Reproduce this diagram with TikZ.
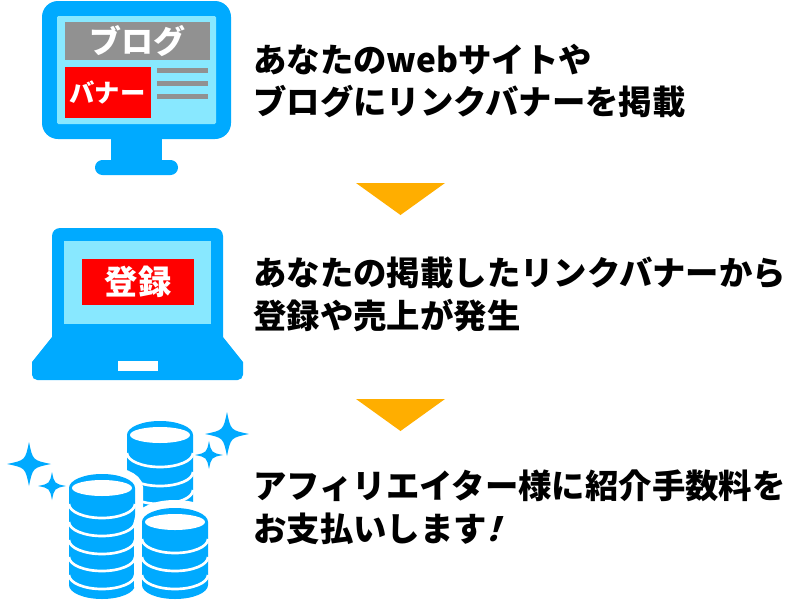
\documentclass[tikz,border=0pt]{standalone}
\usepackage{fontspec}
\usetikzlibrary{calc}
\setmainfont{Noto Sans CJK JP}[UprightFont={* Black},BoldFont={* Black}]
\newfontfamily\jpslant{Noto Sans CJK JP}[UprightFont={* Black},FakeSlant=0.3]
\definecolor{iconblue}{HTML}{00AAFF}
\definecolor{screenblue}{HTML}{88E8FF}
\definecolor{bargray}{HTML}{919191}
\definecolor{arroworange}{HTML}{FFAE00}
\tikzset{
	iconfill/.style={fill=iconblue},
	screenfill/.style={fill=screenblue},
	redfill/.style={fill=red},
	grayfill/.style={fill=bargray},
	downarrow/.style={fill=arroworange},
	caption/.style={anchor=west, inner sep=0, align=left, font=\fontsize{25.05pt}{32pt}\selectfont},
	iconlabel/.style={text=white, inner sep=0},
}
% one stack: centre x, top y, bottom y, separators
\newcommand{\coinstack}[4]{
	\fill[iconfill, preaction={draw=white, line width=12pt}] (#1-33,#2) arc[start angle=180, end angle=360, x radius=33, y radius=14] -- (#1+33,#3) arc[start angle=0, end angle=180, x radius=33, y radius=14] -- cycle;
	\fill[white] (#1,#2) ellipse[x radius=30, y radius=8];
	\foreach \sepy in {#4}
		\draw[white, line width=2pt] (#1-33,\sepy) arc[start angle=180, end angle=0, x radius=33, y radius=14];
}
\newcommand{\sparkle}[3]{
	\fill[iconfill] (#1,#2-#3) .. controls (#1+0.17*#3,#2-0.17*#3) .. (#1+#3,#2) .. controls (#1+0.17*#3,#2+0.17*#3) .. (#1,#2+#3) .. controls (#1-0.17*#3,#2+0.17*#3) .. (#1-#3,#2) .. controls (#1-0.17*#3,#2-0.17*#3) .. cycle;
}
\begin{document}
\begin{tikzpicture}[x=0.75pt, y=-0.75pt]
	\useasboundingbox (0,0) rectangle (800,600);
	% monitor
	\fill[iconfill] (111,135) rectangle (162,165);
	\fill[iconfill, rounded corners=5.6pt] (95,160) rectangle (178,175);
	\fill[iconfill, rounded corners=12pt] (42,1) rectangle (231,139);
	\fill[screenfill, rounded corners=1pt] (57,16) rectangle (216,124);
	\fill[grayfill] (65,22) rectangle (210,60);
	\node[iconlabel, font=\fontsize{24pt}{24pt}\selectfont] (bloglabel) at (137,41) {ブログ};
	\fill[redfill] (65,67) rectangle (151,118);
	\node[iconlabel, font=\fontsize{19pt}{19pt}\selectfont] (bannerlabel) at (107.5,93) {バナー};
	\foreach \bary in {68,81,94}
		\fill[grayfill] (157,\bary) rectangle (208,\bary+5);
	% laptop
	\fill[iconfill] (52,337) [rounded corners=6pt] -- (52,228) -- (223,228) [sharp corners] -- (223,337) -- (243,362) [rounded corners=4pt] -- (243,380) -- (32,380) [sharp corners] -- (32,362) -- cycle;
	\fill[screenfill] (64,240.5) rectangle (211,324);
	\fill[redfill] (82,259) rectangle (194,305);
	\node[iconlabel, font=\fontsize{25pt}{25pt}\selectfont] (signuplabel) at (138,282) {登録};
	\fill[white] (118,361) rectangle (158,371);
	% coins
	\coinstack{160}{435}{530}{453,472,490}
	\coinstack{102}{488}{585}{504,522,540,557,575}
	\coinstack{175}{522}{585}{539,557,575}
	\sparkle{29}{464}{22}
	\sparkle{52}{486}{14}
	\sparkle{227}{434}{22}
	\sparkle{209}{455}{14}
	% arrows
	\fill[downarrow] (356,183) -- (445,183) -- (400.5,215) -- cycle;
	\fill[downarrow] (356,399) -- (445,399) -- (400.5,431) -- cycle;
	% captions
	\node[caption] (captionone) at (253,81) {あなたのwebサイトや\\ブログにリンクバナーを掲載};
	\node[caption] (captiontwo) at (253,294.5) {あなたの掲載したリンクバナーから\\登録や売上が発生};
	\node[caption] (captionthree) at (253,507) {アフィリエイター様に紹介手数料を\\お支払いします\hspace{-8pt}{\jpslant ！}};
\end{tikzpicture}
\end{document}
